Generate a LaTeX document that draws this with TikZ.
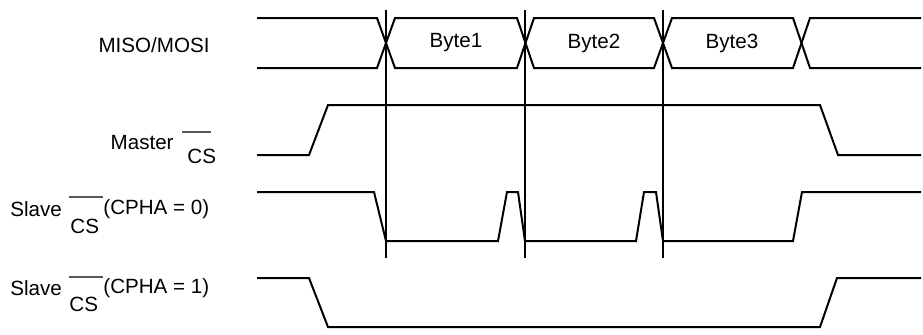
\documentclass[tikz,border=0pt]{standalone}
\usepackage{fontspec}
\setmainfont{Liberation Sans}
\begin{document}
\begin{tikzpicture}[x=0.5pt,y=-0.5pt,
  wave/.style={line width=1pt,line join=miter},
  marker/.style={line width=1pt},
  lbl/.style={inner sep=0pt,font=\fontsize{10.3}{12}\selectfont},
  bar/.style={line width=0.9pt,gray!70!black}]
\useasboundingbox (0,0) rectangle (923,334);
% MISO/MOSI
\draw[wave] (257,18) -- (377,18) -- (395,68) -- (517,68) -- (534,18) -- (654,18) -- (672,68) -- (793,68) -- (810,18) -- (921,18);
\draw[wave] (257,68) -- (377,68) -- (395,18) -- (517,18) -- (534,68) -- (654,68) -- (672,18) -- (793,18) -- (810,68) -- (921,68);
\node[lbl] (b1) at (456,43) {Byte1};
\node[lbl] (b2) at (594,43) {Byte2};
\node[lbl] (b3) at (732,43) {Byte3};
% Master CS
\draw[wave] (257,155) -- (309,155) -- (328,105) -- (820,105) -- (838,155) -- (921,155);
% Slave CS CPHA=0
\draw[wave] (257,192) -- (374,192) -- (386,241) -- (498,241) -- (507,192) -- (518,192) -- (525,241) -- (636,241) -- (644,192) -- (656,192) -- (663,241) -- (793,241) -- (802,192) -- (921,192);
% Slave CS CPHA=1
\draw[wave] (257,278) -- (309,278) -- (328,327) -- (820,327) -- (837,278) -- (921,278);
% vertical markers
\coordinate (v1t) at (386,10); \coordinate (v1b) at (386,258);
\coordinate (v2t) at (525,10); \coordinate (v2b) at (525,258);
\coordinate (v3t) at (663,10); \coordinate (v3b) at (663,258);
\draw[marker] (v1t) -- (v1b);
\draw[marker] (v2t) -- (v2b);
\draw[marker] (v3t) -- (v3b);
% labels
\node[lbl,anchor=east] (lmiso) at (210,45) {MISO/MOSI};
\node[lbl,anchor=east] (lmaster) at (174,143) {Master};
\node[lbl,anchor=west] (lmcs) at (187,156) {CS};
\draw[bar] (182,132) -- (211,132);
\node[lbl,anchor=west] (ls0) at (10,209) {Slave};
\node[lbl,anchor=west] (lcs0) at (70,226) {CS};
\draw[bar] (69,197) -- (103,197);
\node[lbl,anchor=west] (lc0) at (103,209) {(CPHA = 0)};
\node[lbl,anchor=west] (ls1) at (10,288) {Slave};
\node[lbl,anchor=west] (lcs1) at (69,304) {CS};
\draw[bar] (69,277) -- (103,277);
\node[lbl,anchor=west] (lc1) at (103,288) {(CPHA = 1)};
\end{tikzpicture}
\end{document}
